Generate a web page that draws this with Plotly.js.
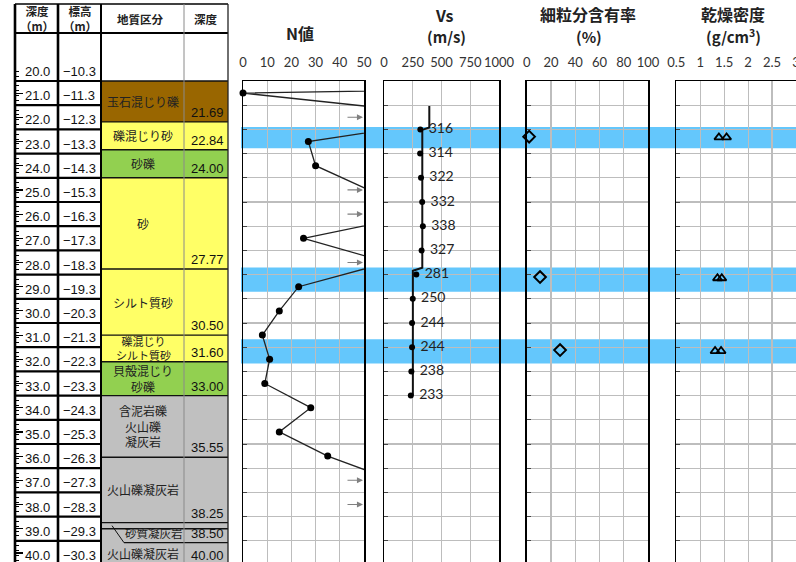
<!DOCTYPE html>
<html>
<head>
<meta charset="utf-8">
<script src="https://cdn.plot.ly/plotly-3.0.1.min.js"></script>
<style>html,body{margin:0;padding:0;background:#fff}#chart{width:796px;height:562px}</style>
</head>
<body>
<div id="chart"></div>
<script>
// 柱状図の行ラベル
const depthLabels = ['20.0','21.0','22.0','23.0','24.0','25.0','26.0','27.0','28.0','29.0','30.0',
                     '31.0','32.0','33.0','34.0','35.0','36.0','37.0','38.0','39.0','40.0'];
const elevLabels  = ['−10.3','−11.3','−12.3','−13.3','−14.3','−15.3','−16.3','−17.3','−18.3','−19.3','−20.3',
                     '−21.3','−22.3','−23.3','−24.3','−25.3','−26.3','−27.3','−28.3','−29.3','−30.3'];

// 地質区分
const layerTop    = [20.00, 21.69, 22.84, 24.00, 27.77, 30.50, 31.60, 33.00, 35.55, 38.25, 38.50];
const layerBottom = [21.69, 22.84, 24.00, 27.77, 30.50, 31.60, 33.00, 35.55, 38.25, 38.50, 40.00];
const layerName   = ['玉石混じり礫', '礫混じり砂', '砂礫', '砂', 'シルト質砂', '礫混じり<br>シルト質砂',
                     '貝殻混じり<br>砂礫', '含泥岩礫<br>火山礫<br>凝灰岩', '火山礫凝灰岩', '砂質凝灰岩', '火山礫凝灰岩'];
const layerType   = ['boulder', 'sand', 'gravel', 'sand', 'sand', 'sand', 'gravel', 'rock', 'rock', 'rock', 'rock'];

// N値 (50超は右端に矢印)
const nDepth = [19.5, 20.5, 21.5, 22.5, 23.5, 24.5, 25.5, 26.5, 27.5, 28.5, 29.5, 30.5, 31.5, 32.5, 33.5, 34.5, 35.5, 36.5, 37.5];
const nValue = [600, 0, 94, 27, 30, 51, 74, 25, 60, 23, 15, 8, 11, 9, 28, 15, 35, 62, 60];

// Vs
const vsDepth = [22, 23, 24, 25, 26, 27, 28, 29, 30, 31, 32, 33];
const vsValue = [316, 314, 322, 332, 338, 327, 281, 250, 244, 244, 238, 233];
const vsLineDepth = [21.03, 21.92, 22.02, 27.72, 27.84, 33.0];
const vsLineValue = [394, 394, 333, 333, 251, 251];

// 細粒分含有率
const fcDepth = [22.3, 28.1, 31.12];
const fcValue = [2, 11, 27.5];

// 乾燥密度
const rhoDepth = [22.33, 22.33, 28.15, 28.15, 31.16, 31.16];
const rhoValue = [1.39, 1.55, 1.36, 1.45, 1.31, 1.435];

// 試料採取区間 (青帯)
const bandTop    = [21.9, 27.71, 30.67];
const bandBottom = [22.78, 28.71, 31.67];

// ---- layout helpers
const W = 796, H = 562;
const PX_PER_M = 24.2;
const TOP_PX = 81;
const D_BOTTOM = 20 + (H - TOP_PX) / PX_PER_M;
const D_TOP = 20 - TOP_PX / PX_PER_M;
const dpx = p => D_TOP + p / PX_PER_M;
const px = p => p / W;
const py = p => 1 - p / H;

const JP = '"Noto Sans CJK JP", sans-serif';
const NUM = '"Liberation Sans", Arial, sans-serif';
const TICK = 'Lato, "Open Sans", sans-serif';
const BAND = '#64c7fc';
const GRID = '#bdbdbd';
const fillOf = {boulder: '#996600', sand: '#ffff66', gravel: '#92d050', rock: '#c0c0c0'};

const colX = [15, 58, 101, 184, 228];

const shapes = [];
const annotations = [];

// blue bands
bandTop.forEach((t, i) => {
    shapes.push({type: 'rect', xref: 'paper', yref: 'y', x0: px(241), x1: 1, y0: t, y1: bandBottom[i],
        fillcolor: BAND, line: {width: 0}, layer: 'below'});
});

function tline(x0, x1, y0, y1, color, width) {
    shapes.push({type: 'line', xref: 'x5', yref: 'y5', x0, x1, y0, y1, line: {color, width}});
}
// table text; labels that sit below the visible range are pinned to the edge and shifted
function ttext(x, d, text, font, xanchor, yanchor) {
    const y = Math.min(d, D_BOTTOM);
    annotations.push({xref: 'x5', yref: 'y5', x, y, xanchor: xanchor || 'center', yanchor: yanchor || 'middle',
        yshift: -(d - y) * PX_PER_M, showarrow: false, text, font});
}

// layers
let labelFloor = null;
layerTop.forEach((t, i) => {
    const b = layerBottom[i];
    const numFont = {family: NUM, size: 13, color: '#111'};
    shapes.push({type: 'rect', xref: 'x5', yref: 'y5', x0: colX[2], x1: colX[4], y0: t, y1: b,
        fillcolor: fillOf[layerType[i]], line: {width: 0}, layer: 'below'});
    tline(colX[2], colX[4], b, b, '#111', 1.4);
    if (b - t < 0.5) {
        const boxBottom = b + 14 / PX_PER_M;
        tline(112, 124, (t + b) / 2, boxBottom, '#111', 1);
        tline(124, colX[4], boxBottom, boxBottom, '#111', 1.2);
        ttext(154, boxBottom, layerName[i], {family: JP, size: 11.5, color: '#222'}, 'center', 'bottom');
        ttext(226, boxBottom, b.toFixed(2), numFont, 'right', 'bottom');
        labelFloor = boxBottom;
    } else {
        const from = labelFloor !== null && labelFloor > t ? labelFloor : t;
        const tight = (b - from) < 1.2 && layerName[i].includes('<br>');
        ttext(143, (from + b) / 2, layerName[i], {family: JP, size: tight ? 11 : 12, color: '#222'});
        ttext(226, b, b.toFixed(2), numFont, 'right', 'bottom');
        labelFloor = null;
    }
});
tline(colX[2], colX[4], 20, 20, '#111', 1.6);

// depth / elevation rows
depthLabels.forEach((lab, i) => {
    const d = parseFloat(lab);
    tline(colX[0], colX[2], d, d, '#000', 2.2);
    ttext(37, d, lab, {family: NUM, size: 13, color: '#111'}, 'center', 'bottom');
    ttext(79, d, elevLabels[i], {family: NUM, size: 13, color: '#111'}, 'center', 'bottom');
});

// frame
const yHeadTop = dpx(4), yHeadBot = dpx(33);
tline(colX[0], colX[4], yHeadTop, yHeadTop, '#000', 1.6);
tline(colX[0], colX[4], yHeadBot, yHeadBot, '#000', 2);
tline(colX[0], colX[0], yHeadTop, D_BOTTOM, '#000', 2.6);
tline(colX[1], colX[1], yHeadTop, D_BOTTOM, '#000', 2.6);
tline(colX[2], colX[2], yHeadTop, D_BOTTOM, '#000', 2);
tline(colX[3], colX[3], yHeadTop, D_BOTTOM, '#8a8a8a', 1);
tline(colX[4], colX[4], yHeadTop, D_BOTTOM, '#222', 1.3);

// header text
const headY = (yHeadTop + yHeadBot) / 2;
[['<b>深度</b><br><b>（m）</b>', 37], ['<b>標高</b><br><b>（m）</b>', 80], ['<b>地質区分</b>', 140], ['<b>深度</b>', 206]]
    .forEach(([txt, x]) => ttext(x, headY, txt, {family: JP, size: 11.5, color: '#222'}));

// panel titles
[['<b>N値</b>', 300, 33, 16], ['<b>Vs</b>', 445, 15, 16], ['<b>(m/s)</b>', 446, 36, 15],
 ['<b>細粒分含有率</b>', 588, 14, 16], ['<b>(%)</b>', 589, 36, 15],
 ['<b>乾燥密度</b>', 733, 14, 16], ['<b>(g/cm<sup>3</sup>)</b>', 733, 36, 15]]
    .forEach(([txt, x, y, s]) => annotations.push({xref: 'paper', yref: 'paper', x: px(x), y: py(y),
        xanchor: 'center', yanchor: 'middle', showarrow: false, text: txt, font: {family: JP, size: s, color: '#222'}}));

// N > 50 arrows
nDepth.forEach((d, i) => {
    if (nValue[i] > 50 && d >= 20) {
        annotations.push({xref: 'x', yref: 'y', x: 50, y: d, ax: -18, ay: 0, text: '', showarrow: true,
            arrowhead: 2, arrowsize: 1.1, arrowwidth: 1.1, arrowcolor: '#808080', standoff: 1});
    }
});

// ruler ticks at left of the table
const rulerMajor = [], rulerMinor = [];
for (let k = 0; k < 20; k++) rulerMajor.push(20.5 + k);
for (let k = 0; k <= 101; k++) rulerMinor.push(19.6 + k * 0.2);

const nShown = nValue.map((v, i) => v <= 50 && nDepth[i] >= 20);

const traces = [
    {x: nValue, y: nDepth, xaxis: 'x', yaxis: 'y', mode: 'lines', line: {color: '#222', width: 1.3}, hoverinfo: 'skip'},
    {x: nValue.filter((v, i) => nShown[i]), y: nDepth.filter((d, i) => nShown[i]), xaxis: 'x', yaxis: 'y',
     mode: 'markers', marker: {color: '#000', size: 7}, cliponaxis: false, hoverinfo: 'skip'},
    {x: vsLineValue, y: vsLineDepth, xaxis: 'x2', yaxis: 'y2', mode: 'lines', line: {color: '#111', width: 2}, hoverinfo: 'skip'},
    {x: vsValue, y: vsDepth, xaxis: 'x2', yaxis: 'y2', mode: 'markers+text', text: vsValue.map(v => ' ' + v),
     textposition: 'middle right', textfont: {family: TICK, size: 14, color: '#222'},
     marker: {color: '#000', size: 6}, cliponaxis: false, hoverinfo: 'skip'},
    {x: fcValue, y: fcDepth, xaxis: 'x3', yaxis: 'y3', mode: 'markers', cliponaxis: false,
     marker: {symbol: 'diamond-open', size: 9, color: '#000', line: {width: 2}}, hoverinfo: 'skip'},
    {x: rhoValue, y: rhoDepth, xaxis: 'x4', yaxis: 'y4', mode: 'markers', cliponaxis: false,
     marker: {symbol: 'triangle-up-open', size: 8, color: '#000', line: {width: 1.8}}, hoverinfo: 'skip'},
    {x: [0], y: [20], xaxis: 'x5', yaxis: 'y5', mode: 'markers', marker: {opacity: 0}, hoverinfo: 'skip'}
];

function panelX(x0, x1, range, dtick, anchor) {
    return {domain: [px(x0), px(x1)], range, dtick, tick0: range[0], side: 'top', anchor, tickangle: 0,
        showline: true, linecolor: '#000', linewidth: 1.5, showgrid: true, gridcolor: GRID, gridwidth: 1.2,
        zeroline: false, ticks: '', ticklabelstandoff: 7, ticklabeloverflow: 'allow',
        tickfont: {family: TICK, size: 13, color: '#333'}};
}
function panelY(anchor, mirror) {
    return {domain: [0, py(TOP_PX)], range: [D_BOTTOM, 20], anchor, showline: true, mirror,
        linecolor: '#000', linewidth: 1.5, dtick: 1, tick0: 20, showgrid: true, gridcolor: GRID, gridwidth: 1.2,
        zeroline: false, showticklabels: false, ticks: 'inside', ticklen: 4, tickcolor: '#444'};
}

const layout = {
    width: W, height: H,
    margin: {l: 0, r: 0, t: 0, b: 0},
    paper_bgcolor: '#fff', plot_bgcolor: 'rgba(0,0,0,0)',
    showlegend: false,
    xaxis: panelX(243, 364, [0, 50], 10, 'y'),
    yaxis: panelY('x', true),
    xaxis2: panelX(384, 499, [0, 1000], 250, 'y2'),
    yaxis2: panelY('x2', true),
    xaxis3: panelX(526.7, 648, [0, 100], 20, 'y3'),
    yaxis3: panelY('x3', true),
    xaxis4: panelX(676.3, 796, [0.5, 3.0], 0.5, 'y4'),
    yaxis4: panelY('x4', false),
    xaxis5: {domain: [0, 1], range: [0, W], anchor: 'y5', visible: false},
    yaxis5: {domain: [0, 1], range: [D_BOTTOM, D_TOP], anchor: 'free', position: px(15),
        showline: false, showgrid: false, zeroline: false, showticklabels: false,
        ticks: 'inside', tickmode: 'array', tickvals: rulerMajor, ticklen: 7, tickwidth: 1.2, tickcolor: '#000',
        minor: {tickmode: 'array', tickvals: rulerMinor, ticks: 'inside', ticklen: 3, tickwidth: 1, tickcolor: '#000', showgrid: false}},
    shapes, annotations
};

Plotly.newPlot('chart', traces, layout, {staticPlot: true, displayModeBar: false});
</script>
</body>
</html>
